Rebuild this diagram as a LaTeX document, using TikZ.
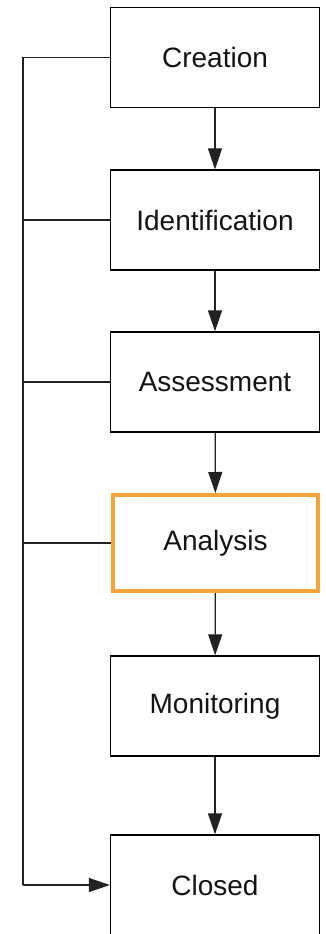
\documentclass[tikz,border=0pt]{standalone}
\usepackage{fontspec}
\setmainfont{Liberation Sans}
\usetikzlibrary{arrows.meta}
\definecolor{boxorange}{HTML}{F5A43C}
\definecolor{linegray}{HTML}{222222}
\tikzset{
  stage/.style={draw=black, line width=1.3pt, minimum width=209pt, minimum height=100pt, inner sep=0pt, font=\fontsize{28}{32}\selectfont, text=black!92, fill=white},
  hl/.style={draw=boxorange, line width=4pt, minimum width=205pt, minimum height=96pt},
  flow/.style={draw=linegray, line width=1.2pt, -{Triangle[length=21pt,width=14pt]}},
  plain/.style={draw=linegray, line width=1.2pt}
}
\begin{document}
\begin{tikzpicture}[x=1pt,y=1pt]
\useasboundingbox (0,0) rectangle (325,-934);
\node[stage] (cre) at (215,-57.5) {Creation};
\node[stage] (ide) at (215,-220) {Identification};
\node[stage] (ass) at (215,-382) {Assessment};
\node[stage,hl] (ana) at (215.5,-543) {Analysis};
\node[stage] (mon) at (215,-706) {Monitoring};
\node[stage] (clo) at (215,-885) {Closed};
\coordinate (top) at (23,-57.5);
\coordinate (bot) at (23,-885);
\draw[flow] (cre) -- (ide);
\draw[flow] (ide) -- (ass);
\draw[flow] (ass) -- (ana);
\draw[flow] (ana) -- (mon);
\draw[flow] (mon) -- (clo);
\draw[plain] (cre.west) -- (top) -- (bot);
\draw[flow] (bot) -- (clo.west);
\draw[plain] (ide.west) -- (ide.west -| top);
\draw[plain] (ass.west) -- (ass.west -| top);
\draw[plain] (ana.west) -- (ana.west -| top);
\end{tikzpicture}
\end{document}
